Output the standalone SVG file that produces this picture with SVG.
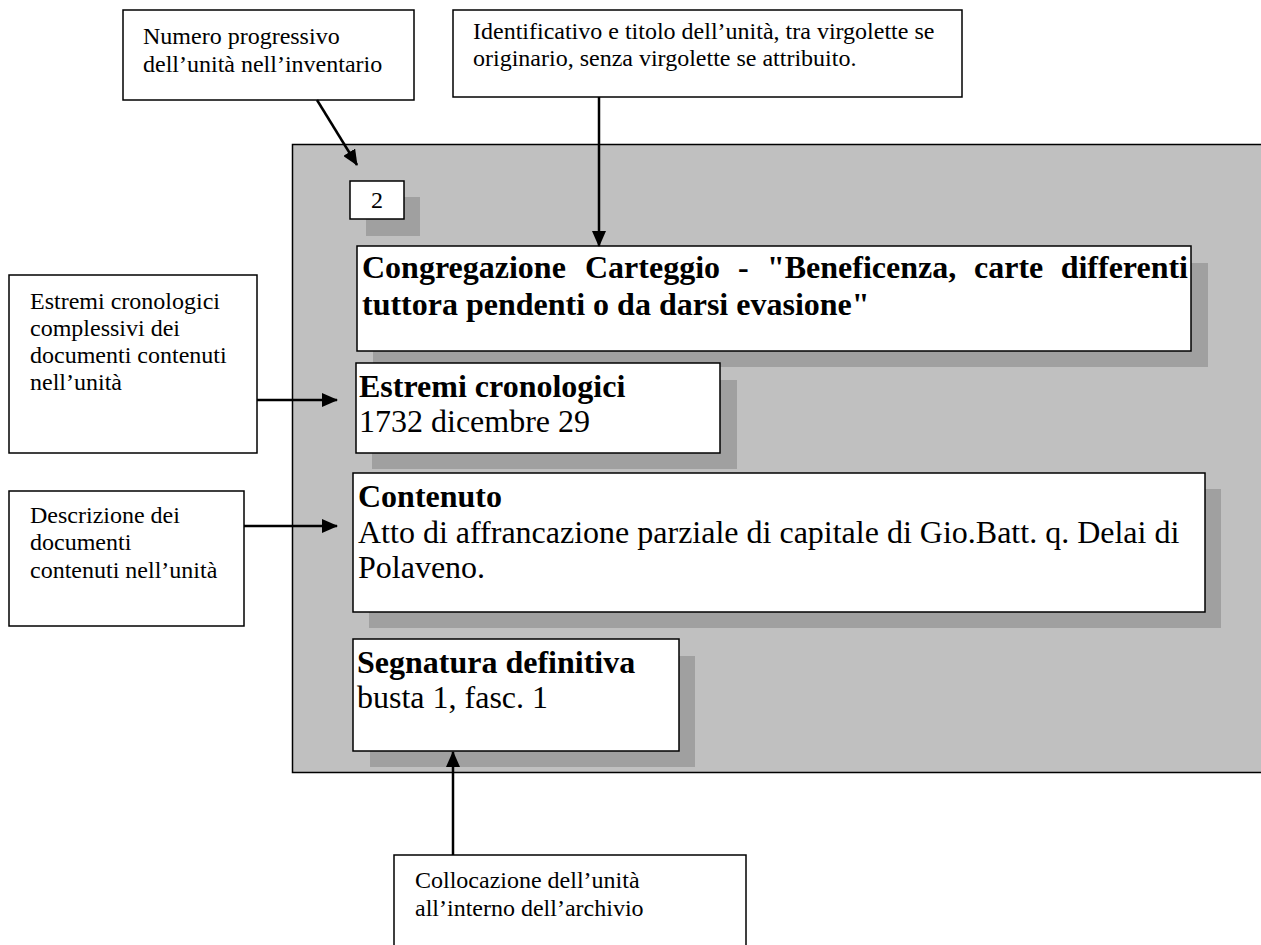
<svg xmlns="http://www.w3.org/2000/svg" width="1261" height="945" viewBox="0 0 1261 945">
<style>
.box{fill:#ffffff;stroke:#000000;stroke-width:1.5}
.sh{fill:#a0a0a0}
.t{font-family:"Liberation Serif","Times New Roman",serif;fill:#000000}
.note{font-size:24px}
.big{font-size:32px}
.b{font-weight:bold}
.con{stroke:#000000;stroke-width:2.5;fill:none;marker-end:url(#ah)}
</style>
<defs>
<marker id="ah" markerWidth="16" markerHeight="14" refX="15" refY="7" orient="auto" markerUnits="userSpaceOnUse">
<path d="M0,0 L16,7 L0,14 z" fill="#000000"/>
</marker>
</defs>
<rect width="1261" height="945" fill="#ffffff"/>

<g id="panel">
<rect x="292.5" y="144.5" width="980" height="628" fill="#c0c0c0" stroke="#000000" stroke-width="1.5"/>
</g>

<g id="note-numero">
<rect class="box" x="123" y="10" width="291" height="90"/>
<text class="t note" x="143" y="44">Numero progressivo</text>
<text class="t note" x="143" y="72">dell’unità nell’inventario</text>
</g>

<g id="note-identificativo">
<rect class="box" x="453" y="10" width="509" height="87"/>
<text class="t note" x="473" y="39">Identificativo e titolo dell’unità, tra virgolette se</text>
<text class="t note" x="473" y="66">originario, senza virgolette se attribuito.</text>
</g>

<g id="node-numero">
<rect class="sh" x="366" y="197" width="54" height="39"/>
<rect class="box" x="350" y="181" width="54" height="38"/>
<text class="t note" x="377" y="208" text-anchor="middle">2</text>
</g>

<g id="node-titolo">
<rect class="sh" x="373" y="263" width="835" height="104"/>
<rect class="box" x="357" y="246" width="834" height="105"/>
<text class="t big b" y="278"><tspan x="362">Congregazione</tspan><tspan x="585">Carteggio</tspan><tspan x="738">-</tspan><tspan x="767">"Beneficenza,</tspan><tspan x="974">carte</tspan><tspan x="1188" text-anchor="end">differenti</tspan></text>
<text class="t big b" x="362" y="315">tuttora pendenti o da darsi evasione"</text>
</g>

<g id="note-estremi">
<rect class="box" x="9" y="275" width="248" height="178"/>
<text class="t note" x="30" y="309">Estremi cronologici</text>
<text class="t note" x="30" y="336">complessivi dei</text>
<text class="t note" x="30" y="363">documenti contenuti</text>
<text class="t note" x="30" y="390">nell’unità</text>
</g>

<g id="node-estremi">
<rect class="sh" x="372" y="380" width="365" height="89"/>
<rect class="box" x="356" y="363" width="364" height="90"/>
<text class="t big b" x="359" y="397">Estremi cronologici</text>
<text class="t big" x="359" y="432">1732 dicembre 29</text>
</g>

<g id="note-descrizione">
<rect class="box" x="9" y="491" width="235" height="135"/>
<text class="t note" x="30" y="523">Descrizione dei</text>
<text class="t note" x="30" y="550">documenti</text>
<text class="t note" x="30" y="578">contenuti nell’unità</text>
</g>

<g id="node-contenuto">
<rect class="sh" x="369" y="489" width="852" height="139"/>
<rect class="box" x="353" y="473" width="852" height="139"/>
<text class="t big b" x="358" y="507">Contenuto</text>
<text class="t big" x="358" y="543">Atto di affrancazione parziale di capitale di Gio.Batt. q. Delai di</text>
<text class="t big" x="358" y="578">Polaveno.</text>
</g>

<g id="node-segnatura">
<rect class="sh" x="370" y="656" width="325" height="111"/>
<rect class="box" x="353" y="639" width="326" height="112"/>
<text class="t big b" x="357" y="673">Segnatura definitiva</text>
<text class="t big" x="357" y="708">busta 1, fasc. 1</text>
</g>

<g id="note-collocazione">
<rect class="box" x="394" y="855" width="352" height="100"/>
<text class="t note" x="415" y="888">Collocazione dell’unità</text>
<text class="t note" x="415" y="916">all’interno dell’archivio</text>
</g>

<g id="connectors">
<line class="con" x1="317" y1="100" x2="357" y2="165"/>
<line class="con" x1="599" y1="97" x2="599" y2="246"/>
<line class="con" x1="257" y1="400" x2="337" y2="400"/>
<line class="con" x1="244" y1="526" x2="337" y2="526"/>
<line class="con" x1="453" y1="855" x2="453" y2="752"/>
</g>
</svg>
